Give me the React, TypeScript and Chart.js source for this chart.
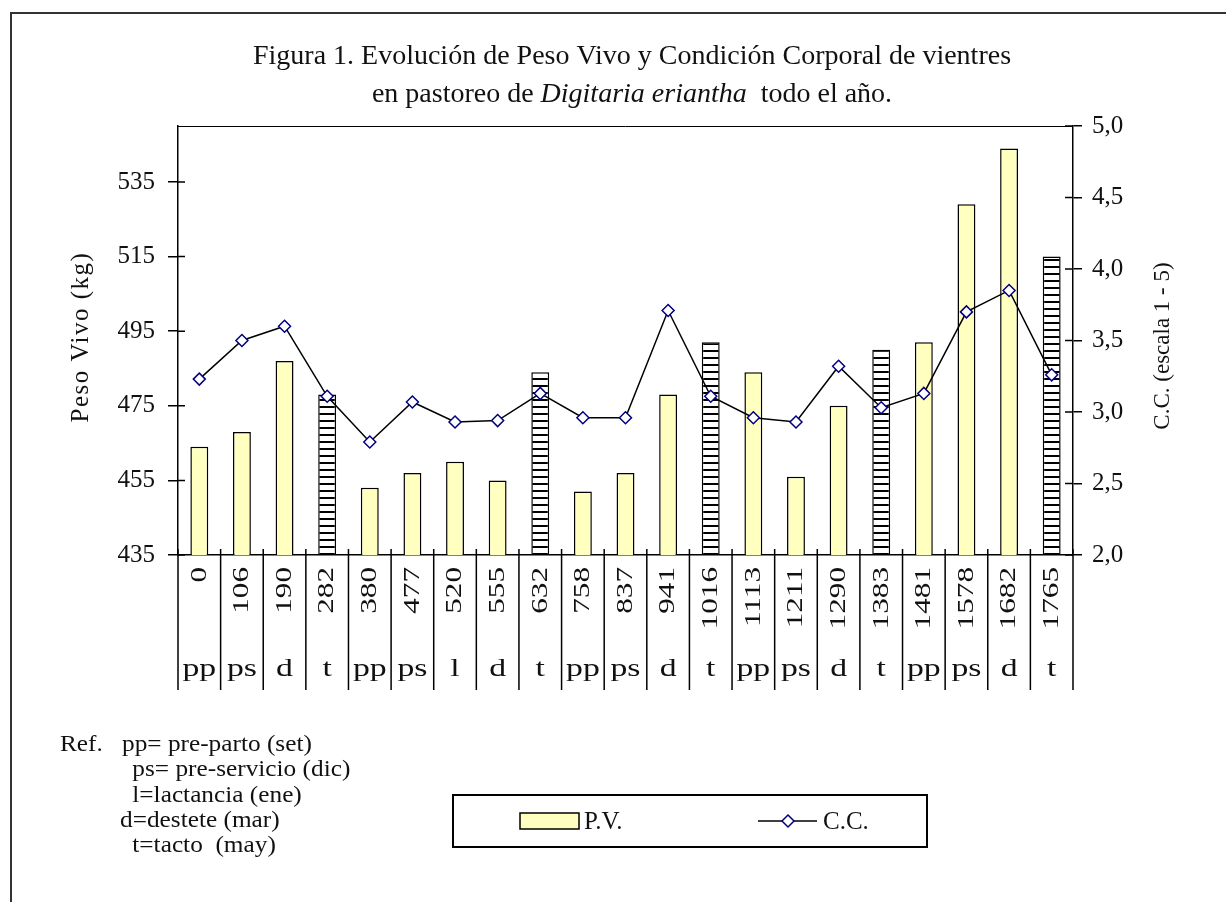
import React, { useEffect, useRef } from "react";
import { Chart, registerables } from "chart.js";

Chart.register(...registerables);

// ---- data ----
const days = ["0", "106", "190", "282", "380", "477", "520", "555", "632", "758", "837", "941", "1016", "1113", "1211", "1290", "1383", "1481", "1578", "1682", "1765"];
const stages = ["pp", "ps", "d", "t", "pp", "ps", "l", "d", "t", "pp", "ps", "d", "t", "pp", "ps", "d", "t", "pp", "ps", "d", "t"];
const pesoVivo = [464, 468, 487, 478, 453, 457, 460, 455, 484, 452, 457, 478, 492, 484, 456, 475, 490, 492, 529, 544, 515];
const condicion = [3.23, 3.5, 3.6, 3.11, 2.79, 3.07, 2.93, 2.94, 3.13, 2.96, 2.96, 3.71, 3.11, 2.96, 2.93, 3.32, 3.03, 3.13, 3.7, 3.85, 3.26];
const leftTicks = [435, 455, 475, 495, 515, 535];
const rightTicks = [2, 2.5, 3, 3.5, 4, 4.5, 5];
const titleLine1 = "Figura 1. Evolución de Peso Vivo y Condición Corporal de vientres";
const titleLine2a = "en pastoreo de ";
const titleLine2b = "Digitaria eriantha";
const titleLine2c = "  todo el año.";
const leftTitle = "Peso Vivo (kg)";
const rightTitle = "C.C. (escala 1 - 5)";
const refHead = "Ref.";
const refLines = [
  "pp= pre-parto (set)",
  " ps= pre-servicio (dic)",
  " l=lactancia (ene)",
  "d=destete (mar)",
  " t=tacto  (may)",
];
const legendBar = "P.V.";
const legendLine = "C.C.";

const SERIF = "'Liberation Serif', 'Times New Roman', serif";
const INK = "#111";

function makeHatch(ctx: CanvasRenderingContext2D) {
  const c = document.createElement("canvas");
  c.width = 8;
  c.height = 7;
  const g = c.getContext("2d")!;
  g.fillStyle = "#ffffff";
  g.fillRect(0, 0, 8, 7);
  g.fillStyle = "#000000";
  g.fillRect(0, 0, 8, 2);
  return ctx.createPattern(c, "repeat")!;
}

function stretchedText(ctx: CanvasRenderingContext2D, text: string, x: number, y: number, sx: number) {
  ctx.save();
  ctx.translate(x, y);
  ctx.scale(sx, 1);
  ctx.fillText(text, 0, 0);
  ctx.restore();
}

const decor = {
  id: "decor",
  afterDraw(chart: any) {
    const ctx: CanvasRenderingContext2D = chart.ctx;
    const ca = chart.chartArea;
    const xs = chart.scales.x;
    const yl = chart.scales.y;
    const yr = chart.scales.y1;
    const n = days.length;
    const cw = (ca.right - ca.left) / n;

    ctx.save();
    // outer frame
    ctx.strokeStyle = "#333";
    ctx.lineWidth = 2;
    ctx.beginPath();
    ctx.moveTo(11, 902);
    ctx.lineTo(11, 13);
    ctx.lineTo(1226, 13);
    ctx.stroke();

    // plot top border
    ctx.strokeStyle = "#000";
    ctx.lineWidth = 1;
    ctx.beginPath();
    ctx.moveTo(ca.left, ca.top + 0.5);
    ctx.lineTo(ca.right, ca.top + 0.5);
    ctx.stroke();

    // inner parts of cross ticks
    ctx.lineWidth = 1.5;
    ctx.beginPath();
    leftTicks.forEach((v) => {
      const y = yl.getPixelForValue(v);
      ctx.moveTo(ca.left, y);
      ctx.lineTo(ca.left + 7, y);
    });
    rightTicks.forEach((v) => {
      const y = yr.getPixelForValue(v);
      ctx.moveTo(ca.right - 8, y);
      ctx.lineTo(ca.right, y);
    });
    // category separators
    for (let i = 0; i <= n; i++) {
      const x = i < n ? xs.getPixelForValue(i) - cw / 2 : xs.getPixelForValue(n - 1) + cw / 2;
      ctx.moveTo(x, ca.bottom - 6);
      ctx.lineTo(x, ca.bottom + 135);
    }
    ctx.stroke();

    // category labels
    ctx.fillStyle = INK;
    for (let i = 0; i < n; i++) {
      const cx = xs.getPixelForValue(i);
      ctx.save();
      ctx.translate(cx, ca.bottom + 12);
      ctx.rotate(-Math.PI / 2);
      ctx.scale(1.3, 1);
      ctx.font = `24px ${SERIF}`;
      ctx.textAlign = "right";
      ctx.textBaseline = "middle";
      ctx.fillText(days[i], 0, 0);
      ctx.restore();

      ctx.save();
      ctx.translate(cx, ca.bottom + 114);
      ctx.scale(1.35, 1);
      ctx.font = `25px ${SERIF}`;
      ctx.textAlign = "center";
      ctx.textBaseline = "middle";
      ctx.fillText(stages[i], 0, 0);
      ctx.restore();
    }

    // axis titles
    ctx.save();
    ctx.translate(81, 337);
    ctx.rotate(-Math.PI / 2);
    ctx.font = `25px ${SERIF}`;
    (ctx as any).letterSpacing = "1.5px";
    ctx.textAlign = "center";
    ctx.textBaseline = "middle";
    ctx.fillText(leftTitle, 0, 0);
    ctx.restore();

    ctx.save();
    ctx.translate(1163, 346);
    ctx.rotate(-Math.PI / 2);
    ctx.font = `23px ${SERIF}`;
    ctx.textAlign = "center";
    ctx.textBaseline = "middle";
    ctx.fillText(rightTitle, 0, 0);
    ctx.restore();

    // title
    ctx.textBaseline = "middle";
    ctx.font = `28px ${SERIF}`;
    ctx.textAlign = "center";
    ctx.fillText(titleLine1, 632, 57);
    ctx.textAlign = "left";
    const fN = `28px ${SERIF}`;
    const fI = `italic 28px ${SERIF}`;
    ctx.font = fN;
    const wa = ctx.measureText(titleLine2a).width;
    const wc = ctx.measureText(titleLine2c).width;
    ctx.font = fI;
    const wb = ctx.measureText(titleLine2b).width;
    let tx = 632 - (wa + wb + wc) / 2;
    ctx.font = fN;
    ctx.fillText(titleLine2a, tx, 95);
    tx += wa;
    ctx.font = fI;
    ctx.fillText(titleLine2b, tx, 95);
    tx += wb;
    ctx.font = fN;
    ctx.fillText(titleLine2c, tx, 95);

    // legend box
    ctx.strokeStyle = "#000";
    ctx.lineWidth = 2;
    ctx.strokeRect(453, 795, 474, 52);
    ctx.fillStyle = "#FFFFC0";
    ctx.fillRect(520, 813, 59, 16);
    ctx.lineWidth = 1.5;
    ctx.strokeRect(520, 813, 59, 16);
    ctx.beginPath();
    ctx.moveTo(758, 821);
    ctx.lineTo(817, 821);
    ctx.stroke();
    ctx.fillStyle = "#fff";
    ctx.strokeStyle = "#000080";
    ctx.beginPath();
    ctx.moveTo(788, 815);
    ctx.lineTo(794, 821);
    ctx.lineTo(788, 827);
    ctx.lineTo(782, 821);
    ctx.closePath();
    ctx.fill();
    ctx.stroke();
    ctx.fillStyle = INK;
    ctx.font = `25px ${SERIF}`;
    ctx.textAlign = "left";
    ctx.textBaseline = "middle";
    ctx.fillText(legendBar, 584, 822);
    ctx.fillText(legendLine, 823, 822);

    // reference notes
    ctx.font = `23px ${SERIF}`;
    stretchedText(ctx, refHead, 60, 745, 1.1);
    const refX = [122, 126, 126, 120, 126];
    refLines.forEach((t, i) => {
      stretchedText(ctx, t, refX[i], 745 + i * 25.3, 1.1);
    });
    ctx.restore();
  },
};

export default function App() {
  const ref = useRef<HTMLCanvasElement | null>(null);
  useEffect(() => {
    const canvas = ref.current!;
    const ctx = canvas.getContext("2d")!;
    const hatch = makeHatch(ctx);
    const chart = new Chart(canvas, {
      type: "bar",
      data: {
        labels: days,
        datasets: [
          {
            type: "line",
            label: legendLine,
            data: condicion,
            yAxisID: "y1",
            borderColor: "#000",
            borderWidth: 1.5,
            pointStyle: "rectRot",
            pointRadius: 6,
            pointBackgroundColor: "#fff",
            pointBorderColor: "#000080",
            pointBorderWidth: 1.5,
            tension: 0,
            order: 1,
          } as any,
          {
            type: "bar",
            label: legendBar,
            data: pesoVivo,
            yAxisID: "y",
            backgroundColor: stages.map((s) => (s === "t" ? hatch : "#FFFFC0")),
            borderColor: "#000",
            borderWidth: 1.5,
            barPercentage: 0.42,
            categoryPercentage: 1,
            order: 2,
          } as any,
        ],
      },
      options: {
        animation: false,
        responsive: false,
        devicePixelRatio: 1,
        layout: { padding: { top: 126, bottom: 207, left: 0, right: 0 } },
        plugins: {
          legend: { display: false },
          title: { display: false },
          tooltip: { enabled: false },
        },
        scales: {
          x: {
            grid: { display: false },
            border: { display: true, color: "#000", width: 1.5 },
            ticks: { display: false },
            afterFit: (s: any) => {
              s.height = 140;
            },
          },
          y: {
            position: "left",
            min: 435,
            max: 550,
            afterBuildTicks: (s: any) => {
              s.ticks = leftTicks.map((v) => ({ value: v }));
            },
            ticks: {
              color: INK,
              font: { family: SERIF, size: 25 },
              padding: 13,
              autoSkip: false,
            },
            grid: { drawOnChartArea: false, tickLength: 10, color: "#000", lineWidth: 1.5 },
            border: { color: "#000", width: 1.5 },
            afterFit: (s: any) => {
              s.width = 178;
            },
          },
          y1: {
            position: "right",
            min: 2,
            max: 5,
            afterBuildTicks: (s: any) => {
              s.ticks = rightTicks.map((v) => ({ value: v }));
            },
            ticks: {
              color: INK,
              font: { family: SERIF, size: 25 },
              padding: 10,
              autoSkip: false,
              callback: (v: any) => Number(v).toFixed(1).replace(".", ","),
            },
            grid: { drawOnChartArea: false, tickLength: 9, color: "#000", lineWidth: 1.5 },
            border: { color: "#000", width: 1.5 },
            afterFit: (s: any) => {
              s.width = 153;
            },
          },
        },
      } as any,
      plugins: [decor],
    });
    return () => chart.destroy();
  }, []);
  return (
    <div style={{ position: "absolute", left: 0, top: 0, width: 1226, height: 902, background: "#fff" }}>
      <canvas ref={ref} width={1226} height={902} style={{ display: "block" }} />
    </div>
  );
}
